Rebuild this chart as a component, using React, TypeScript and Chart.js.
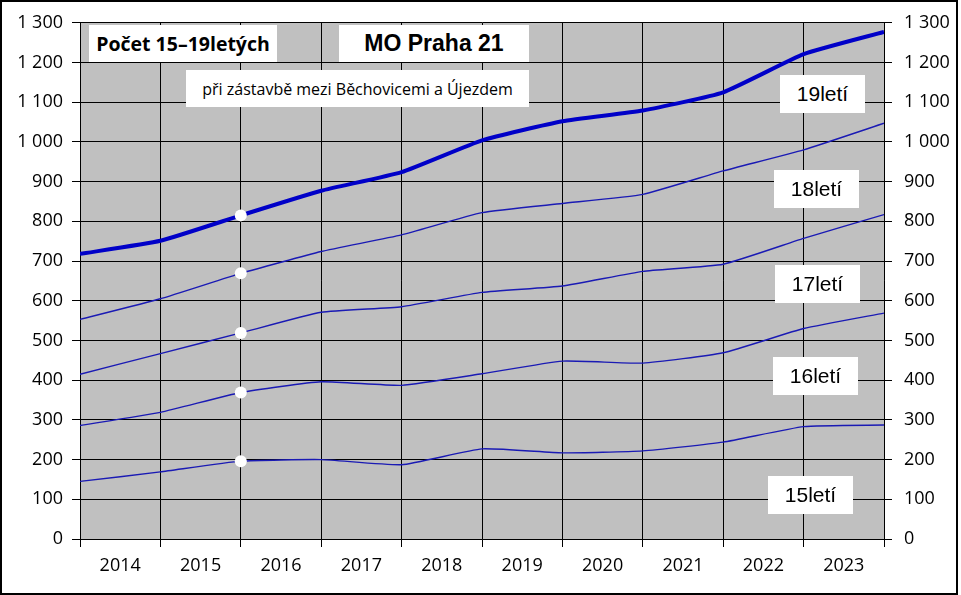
import React, { useEffect, useRef } from "react";
import { Chart, registerables } from "chart.js";

Chart.register(...registerables);

const years = ["2014", "2015", "2016", "2017", "2018", "2019", "2020", "2021", "2022", "2023"];
const age19 = [718, 751, 815, 877, 924, 1004, 1052, 1079, 1125, 1221, 1277];
const age18 = [553, 605, 669, 724, 766, 822, 845, 868, 927, 980, 1047];
const age17 = [415, 467, 519, 571, 585, 621, 637, 674, 692, 757, 817];
const age16 = [286, 319, 369, 396, 387, 416, 448, 443, 469, 530, 569];
const age15 = [145, 169, 196, 200, 187, 227, 217, 222, 244, 283, 287];
const markedIndex = 2;

const titleMain = "Počet 15–19letých";
const titlePlace = "MO Praha 21";
const subtitle = "při zástavbě mezi Běchovicemi a Újezdem";
const seriesLabels = ["19letí", "18letí", "17letí", "16letí", "15letí"];

const fmt = (v: number) =>
  v >= 1000 ? Math.floor(v / 1000) + " " + String(v % 1000).padStart(3, "0") : String(v);

const bgPlugin = {
  id: "plotBg",
  beforeDraw(chart: any) {
    const { ctx, chartArea } = chart;
    ctx.save();
    ctx.fillStyle = "#ffffff";
    ctx.fillRect(0, 0, chart.width, chart.height);
    ctx.fillStyle = "#c0c0c0";
    ctx.fillRect(chartArea.left, chartArea.top, chartArea.right - chartArea.left, chartArea.bottom - chartArea.top);
    ctx.restore();
  },
};

const boxBase: React.CSSProperties = {
  position: "absolute",
  background: "#ffffff",
  display: "flex",
  alignItems: "center",
  justifyContent: "center",
  color: "#000",
  whiteSpace: "nowrap",
  boxSizing: "border-box",
};

export default function App() {
  const ref = useRef<HTMLCanvasElement | null>(null);
  useEffect(() => {
    if (!ref.current) return;
    const mk = (d: number[], w: number, color: string) => ({
      data: d.map((y, i) => ({ x: i, y })),
      borderColor: color,
      borderWidth: w,
      tension: 0.15,
      pointRadius: (c: any) => (c.dataIndex === markedIndex ? 6 : 0),
      pointBackgroundColor: "#ffffff",
      pointBorderWidth: 0,
      pointBorderColor: "#ffffff",
      xAxisID: "x",
      yAxisID: "y",
    });
    const chart = new Chart(ref.current, {
      type: "line",
      data: {
        datasets: [
          mk(age19, 4, "#0000c8"),
          mk(age18, 1.4, "#1a1ab4"),
          mk(age17, 1.4, "#1a1ab4"),
          mk(age16, 1.4, "#1a1ab4"),
          mk(age15, 1.4, "#1a1ab4"),
        ] as any,
      },
      options: {
        animation: false,
        responsive: false,
        layout: { padding: { top: 20, left: 0, right: 0, bottom: 0 } },
        plugins: { legend: { display: false }, tooltip: { enabled: false } },
        scales: {
          x: {
            type: "linear",
            position: "bottom",
            min: 0,
            max: 10,
            weight: 0,
            ticks: { display: false, stepSize: 1 },
            grid: { color: "#000", lineWidth: 1, drawTicks: true, tickLength: 8 },
            border: { display: true, color: "#000", width: 1 },
            afterFit: (s: any) => { s.height = 8; },
          },
          x2: {
            type: "category",
            labels: years,
            position: "bottom",
            offset: true,
            weight: 1,
            grid: { display: false, drawTicks: false },
            border: { display: false },
            ticks: { color: "#000", font: { family: "Open Sans", size: 18 }, padding: 8, maxRotation: 0, autoSkip: false },
            afterFit: (s: any) => { s.height = 48; },
          },
          y: {
            type: "linear",
            position: "left",
            min: 0,
            max: 1300,
            ticks: { stepSize: 100, callback: (v: any) => fmt(Number(v)), color: "#000", font: { family: "Open Sans", size: 18 }, padding: 9 },
            grid: { color: "#000", lineWidth: 1, drawTicks: true, tickLength: 8 },
            border: { display: true, color: "#000", width: 1 },
            afterFit: (s: any) => { s.width = 80; },
          },
          y2: {
            type: "linear",
            position: "right",
            min: 0,
            max: 1300,
            ticks: { stepSize: 100, callback: (v: any) => fmt(Number(v)), color: "#000", font: { family: "Open Sans", size: 18 }, padding: 12 },
            grid: { drawOnChartArea: false, color: "#000", drawTicks: true, tickLength: 8 },
            border: { display: false },
            afterFit: (s: any) => { s.width = 77; },
          },
        },
      } as any,
      plugins: [bgPlugin],
    });
    return () => chart.destroy();
  }, []);

  const ageFont: React.CSSProperties = { fontFamily: "Liberation Sans", fontSize: 21 };
  const labelBoxes = [
    { left: 780, top: 75 },
    { left: 774, top: 170 },
    { left: 775, top: 265 },
    { left: 773, top: 357 },
    { left: 768, top: 476 },
  ];

  return (
    <div style={{ position: "fixed", left: 0, top: 0, width: 961, height: 595, background: "#fff" }}>
      <canvas ref={ref} width={961} height={595} style={{ position: "absolute", left: 0, top: 0, width: 961, height: 595 }} />
      <div style={{ position: "absolute", left: 0, top: 0, width: 958, height: 595, border: "2px solid #000", boxSizing: "border-box", pointerEvents: "none" }} />
      <div style={{ ...boxBase, left: 89, top: 25, width: 188, height: 37, fontFamily: "Open Sans", fontWeight: 700, fontSize: 19.5 }}>{titleMain}</div>
      <div style={{ ...boxBase, left: 339, top: 25, width: 190, height: 37, fontFamily: "Liberation Sans", fontWeight: 700, fontSize: 23 }}>{titlePlace}</div>
      <div style={{ ...boxBase, left: 186, top: 70, width: 343, height: 37, fontFamily: "Open Sans", fontSize: 16 }}>{subtitle}</div>
      {seriesLabels.map((t, i) => (
        <div key={t} style={{ ...boxBase, ...ageFont, left: labelBoxes[i].left, top: labelBoxes[i].top, width: 85, height: 38 }}>{t}</div>
      ))}
    </div>
  );
}
